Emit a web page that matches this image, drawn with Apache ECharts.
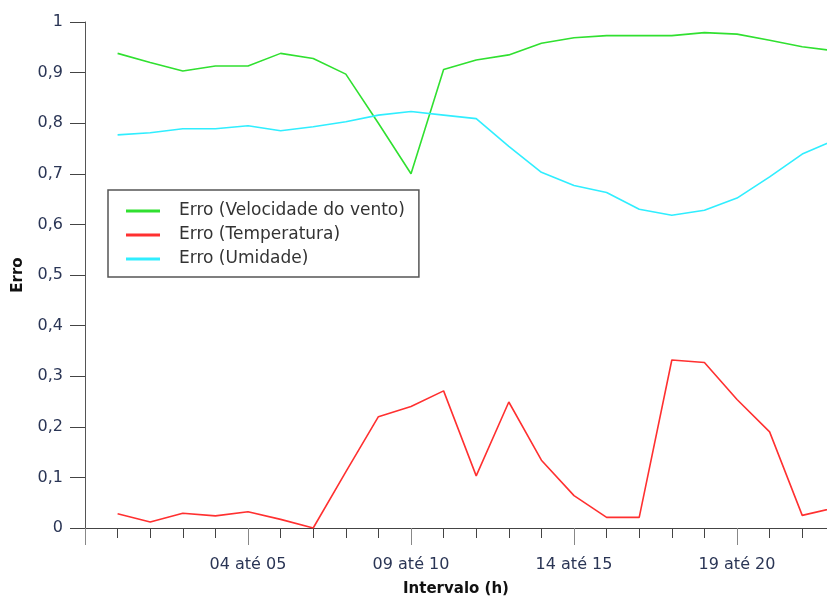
<!DOCTYPE html>
<html>
<head>
<meta charset="utf-8">
<script src="https://cdn.jsdelivr.net/npm/echarts@6/dist/echarts.min.js"></script>
<style>
  html, body { margin: 0; padding: 0; background: #fff; }
  #main { width: 827px; height: 599px; }
</style>
</head>
<body>
<div id="main"></div>
<script>
// intervalos horários (índice 0 = 00 até 01)
var intervalos = ['00 até 01', '01 até 02', '02 até 03', '03 até 04', '04 até 05', '05 até 06',
    '06 até 07', '07 até 08', '08 até 09', '09 até 10', '10 até 11', '11 até 12',
    '12 até 13', '13 até 14', '14 até 15', '15 até 16', '16 até 17', '17 até 18',
    '18 até 19', '19 até 20', '20 até 21', '21 até 22', '22 até 23', '23 até 24'];

var erroVento = [0.938, 0.920, 0.903, 0.913, 0.913, 0.938, 0.928, 0.897, 0.800, 0.700, 0.906, 0.925,
    0.935, 0.958, 0.969, 0.973, 0.973, 0.973, 0.979, 0.976, 0.964, 0.951, 0.943];
var erroTemperatura = [0.028, 0.012, 0.029, 0.024, 0.032, 0.017, 0.0, 0.111, 0.220, 0.240, 0.271, 0.103,
    0.249, 0.134, 0.064, 0.021, 0.021, 0.332, 0.327, 0.254, 0.190, 0.025, 0.040];
var erroUmidade = [0.777, 0.781, 0.789, 0.789, 0.795, 0.785, 0.793, 0.803, 0.816, 0.823, 0.816, 0.809,
    0.754, 0.703, 0.677, 0.663, 0.630, 0.618, 0.628, 0.652, 0.694, 0.739, 0.767];

var rotulosX = [4, 9, 14, 19];

var myChart = echarts.init(document.getElementById('main'));

function pares(valores) {
    return valores.map(function (v, i) { return [i, v]; });
}

var fonte = 'DejaVu Sans';
var xMin = -1, xMax = 21.76;

var option = {
    animation: false,
    grid: { left: 85, right: 0, top: 22, bottom: 71, containLabel: false, outerBoundsMode: 'none' },
    legend: {
        orient: 'vertical',
        left: 108,
        top: 190,
        padding: [11, 14, 8, 18],
        itemGap: 4,
        itemWidth: 34,
        itemHeight: 3,
        icon: 'rect',
        borderColor: '#555',
        borderWidth: 1.5,
        textStyle: { fontFamily: fonte, fontSize: 17, lineHeight: 20, color: '#333', padding: [0, 0, 0, 14] },
        data: ['Erro (Velocidade do vento)', 'Erro (Temperatura)', 'Erro (Umidade)']
    },
    xAxis: [
        {
            type: 'value',
            min: xMin,
            max: xMax,
            interval: 1,
            name: 'Intervalo (h)',
            nameLocation: 'middle',
            nameGap: 54,
            nameTextStyle: { fontFamily: fonte, fontSize: 15, fontWeight: 'bold', color: '#111' },
            axisLine: { onZero: false, lineStyle: { color: '#444', width: 1 } },
            axisTick: { length: 10, lineStyle: { color: '#444' } },
            axisLabel: { show: false },
            splitLine: { show: false }
        },
        {
            type: 'value',
            min: xMin,
            max: xMax,
            interval: 5,
            position: 'bottom',
            axisLine: { show: false, onZero: false },
            axisTick: { length: 17, lineStyle: { color: '#888' } },
            axisLabel: {
                margin: 29,
                fontFamily: fonte,
                fontSize: 16,
                color: '#2a3555',
                formatter: function (v) {
                    return rotulosX.indexOf(v) >= 0 ? intervalos[v] : '';
                }
            },
            splitLine: { show: false }
        }
    ],
    yAxis: {
        type: 'value',
        min: 0,
        max: 1,
        interval: 0.1,
        name: 'Erro',
        nameLocation: 'middle',
        nameGap: 59,
        nameTextStyle: { fontFamily: fonte, fontSize: 15, fontWeight: 'bold', color: '#111' },
        axisLine: { show: true, onZero: false, lineStyle: { color: '#555' } },
        axisTick: { show: true, length: 15, lineStyle: { color: '#444' } },
        axisLabel: {
            margin: 22,
            fontFamily: fonte,
            fontSize: 16,
            color: '#2a3555',
            formatter: function (v) { return String(Math.round(v * 10) / 10).replace('.', ','); }
        },
        splitLine: { show: false }
    },
    series: [
        {
            name: 'Erro (Velocidade do vento)',
            type: 'line',
            data: pares(erroVento),
            symbol: 'none',
            color: '#30e030',
            lineStyle: { width: 1.6, color: '#30e030' }
        },
        {
            name: 'Erro (Temperatura)',
            type: 'line',
            data: pares(erroTemperatura),
            symbol: 'none',
            color: '#ff3030',
            lineStyle: { width: 1.6, color: '#ff3030' }
        },
        {
            name: 'Erro (Umidade)',
            type: 'line',
            data: pares(erroUmidade),
            symbol: 'none',
            color: '#30eeff',
            lineStyle: { width: 1.6, color: '#30eeff' }
        }
    ]
};

myChart.setOption(option);
</script>
</body>
</html>
